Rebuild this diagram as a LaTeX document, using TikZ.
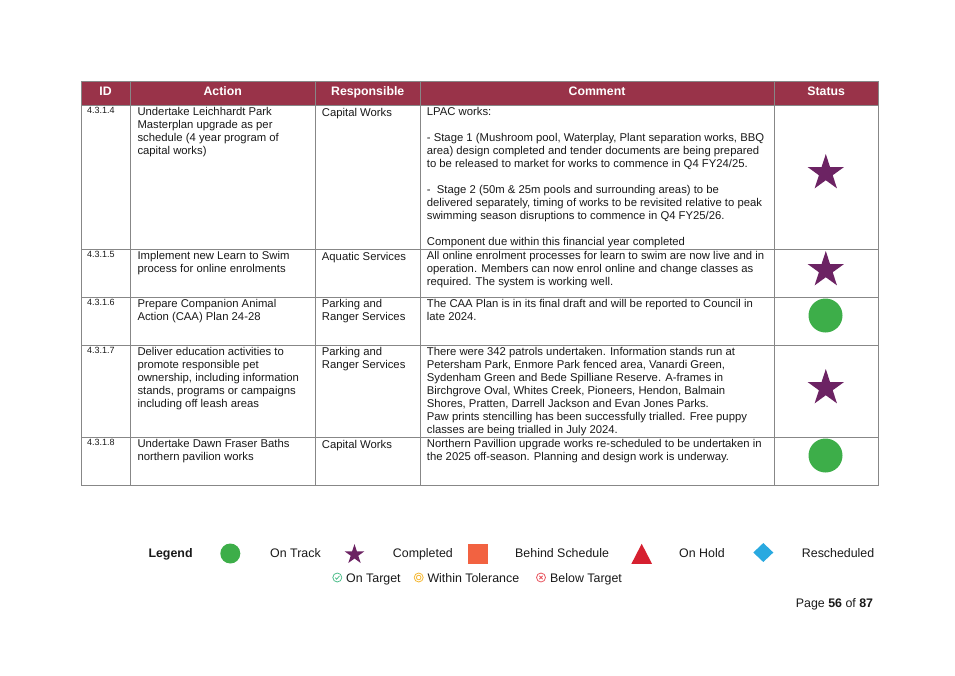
\documentclass[tikz,border=0pt]{standalone}
\usepackage{fontspec}
\setmainfont{Liberation Sans}
\usetikzlibrary{shapes.geometric}

\definecolor{hdrred}{RGB}{153,51,73}
\definecolor{gridgray}{RGB}{135,135,135}
\definecolor{donepurple}{RGB}{108,35,99}
\definecolor{trackgreen}{RGB}{61,174,73}
\definecolor{behindorange}{RGB}{242,98,65}
\definecolor{holdred}{RGB}{214,32,48}
\definecolor{reschblue}{RGB}{41,169,224}
\definecolor{tgtgreen}{RGB}{80,190,140}
\definecolor{tolgold}{RGB}{245,183,49}
\definecolor{belowred}{RGB}{232,85,95}

\newcommand{\cellfont}{\fontsize{11.3}{13}\selectfont}
\newcommand{\idfont}{\fontsize{9}{11}\selectfont}
\newcommand{\hdrfont}{\fontsize{12.3}{14}\selectfont\bfseries}
\newcommand{\legfont}{\fontsize{12.4}{14}\selectfont}

\tikzset{
  cell/.style={anchor=north west, inner sep=0pt, align=left, font=\cellfont, text=black!90, execute at begin node=\strut},
  idcell/.style={anchor=base west, inner sep=0pt, font=\idfont, text=black!90},
  hdr/.style={anchor=base, inner sep=0pt, font=\hdrfont, text=white},
  donestar/.style={star, star points=5, star point ratio=2.618, fill=donepurple, inner sep=0pt, minimum size=38pt},
  trackdot/.style={circle, fill=trackgreen, inner sep=0pt, minimum size=34pt},
  leg/.style={anchor=base west, inner sep=0pt, font=\legfont, text=black!90},
  mini/.style={line width=0.8pt},
}

\begin{document}
\begin{tikzpicture}[x=1pt, y=-1pt]
    \useasboundingbox (0,0) rectangle (955,675);

    % Intestazione
    \fill[hdrred] (81.5,81) rectangle (878.5,105);
    \node[hdr] (hid) at (105.5,95) {ID};
    \node[hdr] (hact) at (222.7,95) {Action};
    \node[hdr] (hresp) at (367.7,95) {Responsible};
    \node[hdr] (hcom) at (597,95) {Comment};
    \node[hdr] (hstat) at (826.2,95) {Status};

    % Griglia della tabella
    \foreach \y in {105,249,297,345,437}
        \draw[gridgray, line width=1pt] (81.5,\y) -- (878.5,\y);
    \foreach \x in {130,315.5,420,774}
        \draw[gridgray, line width=1pt] (\x,81) -- (\x,485);
    \draw[gridgray, line width=1pt] (81.5,81) rectangle (878.5,485); % Bordo

    % Riga 4.3.1.4
    \node[idcell] (id4) at (87,113.5) {4.3.1.4};
    \node[cell] (act4) at (137.3,106.9) {Undertake Leichhardt Park\\Masterplan upgrade as per\\schedule (4 year program of\\capital works)};
    \node[cell] (resp4) at (321.7,106.9) {Capital Works};
    \node[cell] (com4) at (426.7,106.9) {LPAC works:\\[13pt]
        - Stage 1 (Mushroom pool, Waterplay, Plant separation works, BBQ\\
        area) design completed and tender documents are being prepared\\
        to be released to market for works to commence in Q4 FY24/25.\\[13pt]
        -\ \ Stage 2 (50m \& 25m pools and surrounding areas) to be\\
        delivered separately, timing of works to be revisited relative to peak\\
        swimming season disruptions to commence in Q4 FY25/26.\\[13pt]
        Component due within this financial year completed};
    \node[donestar] (st4) at (825.8,173) {};

    % Riga 4.3.1.5
    \node[idcell] (id5) at (87,257.5) {4.3.1.5};
    \node[cell] (act5) at (137.3,250.9) {Implement new Learn to Swim\\process for online enrolments};
    \node[cell] (resp5) at (321.7,250.9) {Aquatic Services};
    \node[cell] (com5) at (426.7,250.9) {All online enrolment processes for learn to swim are now live and in\\
        operation. Members can now enrol online and change classes as\\
        required. The system is working well.};
    \node[donestar] (st5) at (825.8,270) {};

    % Riga 4.3.1.6
    \node[idcell] (id6) at (87,305.5) {4.3.1.6};
    \node[cell] (act6) at (137.3,298.9) {Prepare Companion Animal\\Action (CAA) Plan 24-28};
    \node[cell] (resp6) at (321.7,298.9) {Parking and\\Ranger Services};
    \node[cell] (com6) at (426.7,298.9) {The CAA Plan is in its final draft and will be reported to Council in\\late 2024.};
    \node[trackdot] (st6) at (825.5,315.5) {};

    % Riga 4.3.1.7
    \node[idcell] (id7) at (87,353.5) {4.3.1.7};
    \node[cell] (act7) at (137.3,346.9) {Deliver education activities to\\promote responsible pet\\ownership, including information\\stands, programs or campaigns\\including off leash areas};
    \node[cell] (resp7) at (321.7,346.9) {Parking and\\Ranger Services};
    \node[cell] (com7) at (426.7,346.9) {There were 342 patrols undertaken. Information stands run at\\
        Petersham Park, Enmore Park fenced area, Vanardi Green,\\
        Sydenham Green and Bede Spilliane Reserve. A-frames in\\
        Birchgrove Oval, Whites Creek, Pioneers, Hendon, Balmain\\
        Shores, Pratten, Darrell Jackson and Evan Jones Parks.\\
        Paw prints stencilling has been successfully trialled. Free puppy\\
        classes are being trialled in July 2024.};
    \node[donestar] (st7) at (825.8,388) {};

    % Riga 4.3.1.8
    \node[idcell] (id8) at (87,445.5) {4.3.1.8};
    \node[cell] (act8) at (137.3,438.9) {Undertake Dawn Fraser Baths\\northern pavilion works};
    \node[cell] (resp8) at (321.7,438.9) {Capital Works};
    \node[cell] (com8) at (426.7,438.9) {Northern Pavillion upgrade works re-scheduled to be undertaken in\\the 2025 off-season. Planning and design work is underway.};
    \node[trackdot] (st8) at (825.5,455.5) {};

    % Legenda
    \node[leg, font=\legfont\bfseries] (legend) at (148.3,557.7) {Legend};
    \node[trackdot, minimum size=20pt] (lgtrack) at (230.3,553.5) {};
    \node[leg] (ltrack) at (270,557.7) {On Track};
    \node[donestar, minimum size=21pt] (lgdone) at (354.5,554.5) {};
    \node[leg] (ldone) at (392.7,557.7) {Completed};
    \fill[behindorange] (468.3,544.3) rectangle (488.3,564.3); % Quadrato
    \node[leg] (lbehind) at (515,557.7) {Behind Schedule};
    \fill[holdred] (641.7,543.8) -- (652,563.8) -- (631.4,563.8) -- cycle; % Triangolo
    \node[leg] (lhold) at (679,557.7) {On Hold};
    \fill[reschblue] (763.3,543) -- (773.3,552.5) -- (763.3,562) -- (753.3,552.5) -- cycle; % Rombo
    \node[leg] (lresch) at (801.7,557.7) {Rescheduled};

    % Indicatori
    \draw[tgtgreen, mini] (337.3,577.5) circle (4.5);
    \draw[tgtgreen, mini] (335.2,577.6) -- (336.7,579.2) -- (339.5,575.9);
    \node[leg] (lontgt) at (346,582.5) {On Target};
    \draw[tolgold, mini] (418.7,577.5) circle (4.5);
    \draw[tolgold, mini] (418.7,577.5) circle (2.3);
    \node[leg] (ltol) at (427.3,582.5) {Within Tolerance};
    \draw[belowred, mini] (541,577.5) circle (4.5);
    \draw[belowred, mini] (539.3,575.8) -- (542.7,579.2) (542.7,575.8) -- (539.3,579.2);
    \node[leg] (lbelow) at (550,582.5) {Below Target};

    % Numero di pagina
    \node[leg, anchor=base east] (page) at (873.3,607.5) {Page \textbf{56} of \textbf{87}};
\end{tikzpicture}
\end{document}
